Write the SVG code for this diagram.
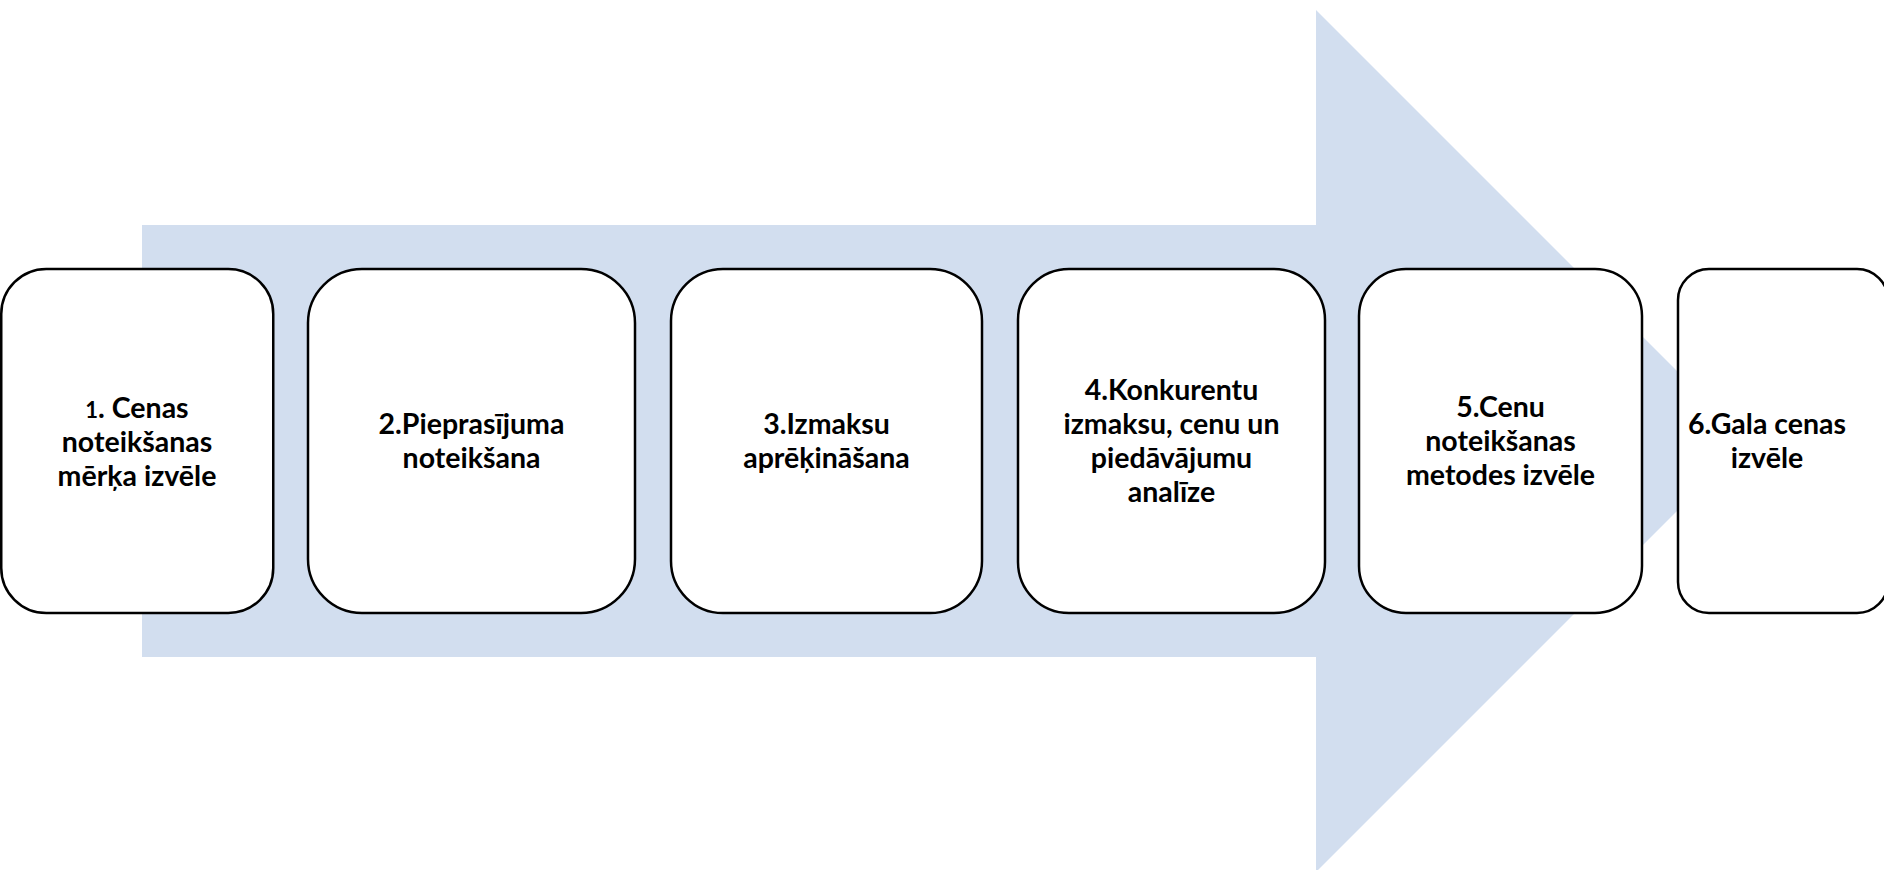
<svg xmlns="http://www.w3.org/2000/svg" width="1884" height="870" viewBox="0 0 1884 870">
  <style>
    .step { fill: #ffffff; stroke: #000000; stroke-width: 2.5; }
    .label { font-family: Lato, "Open Sans", "Liberation Sans", sans-serif; font-weight: 700; font-size: 28.5px; fill: #000000; text-anchor: middle; }
    .num { font-size: 22px; }
  </style>
  <rect width="1884" height="870" fill="#ffffff"/>

  <!-- big background process arrow -->
  <g id="connectors">
    <polygon points="142,225 1316,225 1316,10 1747,441 1316,872 1316,657 142,657" fill="#D2DEEF"/>
  </g>

  <g id="step1">
    <rect class="step" x="1.25" y="269" width="272" height="344" rx="45" ry="45"/>
    <text class="label" x="137" y="418"><tspan class="num">1</tspan>. Cenas</text>
    <text class="label" x="137" y="452">noteikšanas</text>
    <text class="label" x="137" y="486">mērķa izvēle</text>
  </g>

  <g id="step2">
    <rect class="step" x="308" y="269" width="327" height="344" rx="54" ry="54"/>
    <text class="label" x="471.5" y="434">2.Pieprasījuma</text>
    <text class="label" x="471.5" y="468">noteikšana</text>
  </g>

  <g id="step3">
    <rect class="step" x="671" y="269" width="311" height="344" rx="52" ry="52"/>
    <text class="label" x="826.5" y="434">3.Izmaksu</text>
    <text class="label" x="826.5" y="468">aprēķināšana</text>
  </g>

  <g id="step4">
    <rect class="step" x="1018" y="269" width="307" height="344" rx="51" ry="51"/>
    <text class="label" x="1171.5" y="400">4.Konkurentu</text>
    <text class="label" x="1171.5" y="434">izmaksu, cenu un</text>
    <text class="label" x="1171.5" y="468">piedāvājumu</text>
    <text class="label" x="1171.5" y="502">analīze</text>
  </g>

  <g id="step5">
    <rect class="step" x="1359" y="269" width="283" height="344" rx="47" ry="47"/>
    <text class="label" x="1500.5" y="417">5.Cenu</text>
    <text class="label" x="1500.5" y="451">noteikšanas</text>
    <text class="label" x="1500.5" y="485">metodes izvēle</text>
  </g>

  <g id="step6">
    <rect class="step" x="1678" y="269" width="210" height="344" rx="31" ry="31"/>
    <text class="label" x="1767" y="434">6.Gala cenas</text>
    <text class="label" x="1767" y="468">izvēle</text>
  </g>
</svg>
